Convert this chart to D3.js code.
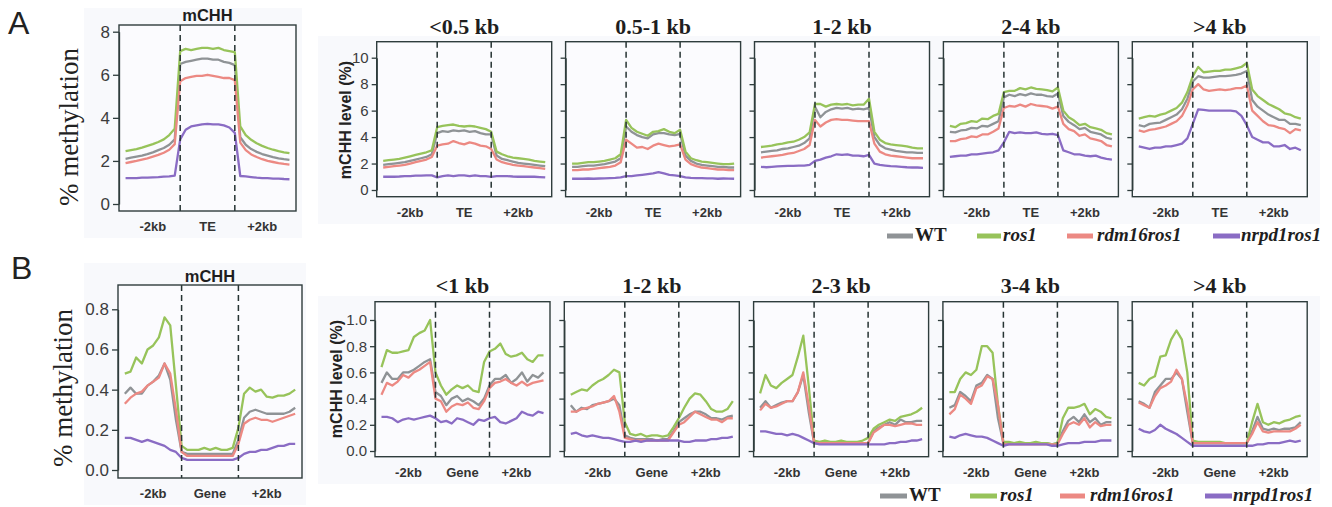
<!DOCTYPE html>
<html>
<head>
<meta charset="utf-8">
<script src="https://cdn.jsdelivr.net/npm/d3@7"></script>
<style>
  body { margin: 0; background: #fff; }
  svg { display: block; }
</style>
</head>
<body>
<svg id="chart" width="1332" height="507"></svg>
<script>
/* global d3 */

// bin centres along the meta-profile: 0-20 upstream, 20-40 body, 40-60 downstream
const binPos = [0, 2, 4, 6, 8, 10, 12, 14, 16, 18, 20, 22, 24, 26, 28, 30, 32, 34, 36, 38, 40, 42, 44, 46, 48, 50, 52, 54, 56, 58, 60]

const strains = ['WT', 'ros1', 'rdm16ros1', 'nrpd1ros1']
const teTitles = ['<0.5 kb', '0.5-1 kb', '1-2 kb', '2-4 kb', '>4 kb']
const geneTitles = ['<1 kb', '1-2 kb', '2-3 kb', '3-4 kb', '>4 kb']
const teRegions = ['-2kb', 'TE', '+2kb']
const geneRegions = ['-2kb', 'Gene', '+2kb']
const teAllTicks = [0, 2, 4, 6, 8]
const teBinTicks = [0, 2, 4, 6, 8, 10]
const geneAllTicks = [0, 0.2, 0.4, 0.6, 0.8]
const geneBinTicks = [0, 0.2, 0.4, 0.6, 0.8, 1.0]

// ---- A: TEs, all
const teAllWT = [2.1, 2.15, 2.2, 2.25, 2.32, 2.4, 2.5, 2.6, 2.75, 3.0, 6.5, 6.6, 6.65, 6.7, 6.75, 6.75, 6.7, 6.7, 6.6, 6.55, 6.45, 3.1, 2.75, 2.55, 2.42, 2.32, 2.25, 2.18, 2.12, 2.08, 2.05]
const teAllRos1 = [2.45, 2.5, 2.55, 2.62, 2.7, 2.78, 2.88, 3.0, 3.2, 3.5, 7.1, 7.2, 7.15, 7.2, 7.25, 7.25, 7.2, 7.25, 7.15, 7.1, 7.05, 3.6, 3.2, 2.98, 2.82, 2.7, 2.6, 2.52, 2.45, 2.4, 2.36]
const teAllRdm = [1.9, 1.95, 2.0, 2.06, 2.12, 2.2, 2.28, 2.38, 2.52, 2.78, 5.7, 5.85, 5.9, 5.95, 5.95, 6.0, 5.95, 5.9, 5.85, 5.85, 5.75, 2.85, 2.5, 2.3, 2.18, 2.08, 2.0, 1.95, 1.9, 1.86, 1.83]
const teAllNrpd = [1.2, 1.2, 1.2, 1.22, 1.22, 1.24, 1.25, 1.27, 1.28, 1.32, 3.0, 3.45, 3.6, 3.65, 3.7, 3.72, 3.7, 3.7, 3.65, 3.55, 3.3, 1.3, 1.28, 1.25, 1.22, 1.2, 1.2, 1.18, 1.18, 1.16, 1.15]

// ---- A: TEs by length
const te05WT = [1.9, 1.95, 2.0, 2.05, 2.1, 2.2, 2.3, 2.4, 2.5, 2.7, 4.3, 4.45, 4.4, 4.5, 4.45, 4.5, 4.4, 4.45, 4.3, 4.2, 4.2, 2.6, 2.35, 2.25, 2.15, 2.05, 2.0, 1.95, 1.9, 1.85, 1.8]
const te05Ros1 = [2.2, 2.25, 2.3, 2.35, 2.45, 2.55, 2.65, 2.75, 2.85, 3.0, 4.75, 4.85, 4.9, 4.95, 4.85, 4.8, 4.85, 4.8, 4.7, 4.6, 4.4, 2.9, 2.7, 2.55, 2.45, 2.4, 2.35, 2.3, 2.2, 2.15, 2.1]
const te05Rdm = [1.7, 1.75, 1.8, 1.85, 1.9, 2.0, 2.1, 2.2, 2.3, 2.5, 3.35, 3.45, 3.5, 3.7, 3.55, 3.45, 3.6, 3.5, 3.35, 3.3, 3.1, 2.3, 2.1, 2.0, 1.9, 1.85, 1.8, 1.75, 1.7, 1.65, 1.6]
const te05Nrpd = [1.0, 1.0, 1.0, 1.02, 1.05, 1.05, 1.08, 1.08, 1.1, 1.1, 0.95, 1.05, 1.1, 1.05, 1.1, 1.1, 1.05, 1.1, 1.05, 1.05, 1.0, 1.05, 1.05, 1.05, 1.02, 1.0, 1.0, 1.0, 1.0, 0.98, 0.95]

const te1WT = [1.75, 1.75, 1.8, 1.85, 1.85, 1.9, 1.95, 2.05, 2.15, 2.4, 4.8, 4.4, 4.15, 4.0, 3.9, 4.2, 4.3, 4.3, 4.2, 4.15, 4.25, 2.6, 2.2, 2.0, 1.9, 1.85, 1.8, 1.75, 1.75, 1.7, 1.7]
const te1Ros1 = [2.0, 2.0, 2.05, 2.1, 2.1, 2.15, 2.2, 2.3, 2.4, 2.7, 5.3, 4.7, 4.4, 4.25, 4.1, 4.4, 4.45, 4.6, 4.4, 4.3, 4.55, 2.9, 2.4, 2.25, 2.15, 2.1, 2.05, 2.0, 1.95, 1.95, 2.0]
const te1Rdm = [1.5, 1.5, 1.55, 1.55, 1.6, 1.65, 1.7, 1.75, 1.85, 2.1, 3.8, 3.5, 3.2, 3.25, 3.1, 3.35, 3.5, 3.4, 3.3, 3.35, 3.45, 2.3, 1.95, 1.8, 1.7, 1.65, 1.6, 1.55, 1.55, 1.5, 1.5]
const te1Nrpd = [0.85, 0.85, 0.85, 0.87, 0.85, 0.87, 0.88, 0.9, 0.92, 0.95, 1.05, 1.05, 1.1, 1.15, 1.2, 1.25, 1.35, 1.25, 1.15, 1.1, 1.05, 0.95, 0.92, 0.9, 0.9, 0.88, 0.88, 0.85, 0.87, 0.86, 0.85]

const te2WT = [2.85, 2.9, 2.95, 3.0, 3.1, 3.15, 3.25, 3.35, 3.55, 3.9, 6.3, 5.5, 5.9, 6.1, 6.2, 6.15, 6.2, 6.1, 6.15, 6.1, 6.2, 4.0, 3.4, 3.15, 3.05, 2.95, 2.9, 2.85, 2.85, 2.8, 2.8]
const te2Ros1 = [3.25, 3.3, 3.35, 3.45, 3.5, 3.6, 3.65, 3.8, 4.0, 4.35, 6.5, 6.5, 6.3, 6.45, 6.5, 6.45, 6.5, 6.4, 6.45, 6.45, 6.9, 4.4, 3.8, 3.55, 3.45, 3.4, 3.35, 3.3, 3.2, 3.15, 3.15]
const te2Rdm = [2.45, 2.5, 2.55, 2.6, 2.65, 2.75, 2.8, 2.95, 3.1, 3.4, 5.3, 4.8, 5.1, 5.3, 5.35, 5.3, 5.3, 5.25, 5.2, 5.2, 5.2, 3.5, 2.9, 2.7, 2.6, 2.55, 2.5, 2.45, 2.4, 2.4, 2.4]
const te2Nrpd = [1.75, 1.72, 1.75, 1.78, 1.8, 1.82, 1.82, 1.85, 1.85, 1.9, 2.2, 2.3, 2.45, 2.55, 2.7, 2.65, 2.7, 2.6, 2.6, 2.55, 2.65, 2.0, 1.9, 1.85, 1.8, 1.78, 1.75, 1.72, 1.7, 1.7, 1.68]

const te4WT = [4.4, 4.35, 4.5, 4.55, 4.7, 4.65, 4.85, 4.8, 5.0, 5.2, 7.0, 7.2, 7.1, 7.25, 7.15, 7.3, 7.2, 7.2, 7.1, 7.05, 7.3, 5.6, 5.15, 4.9, 4.6, 4.7, 4.4, 4.3, 4.2, 3.95, 3.85]
const te4Ros1 = [4.85, 4.75, 5.0, 5.05, 5.2, 5.15, 5.4, 5.35, 5.6, 5.75, 7.4, 7.5, 7.5, 7.7, 7.6, 7.75, 7.65, 7.6, 7.55, 7.45, 7.75, 6.0, 5.5, 5.25, 4.9, 5.0, 4.75, 4.65, 4.55, 4.3, 4.2]
const te4Rdm = [3.7, 3.7, 3.85, 3.9, 4.05, 4.0, 4.2, 4.2, 4.4, 4.65, 6.2, 6.35, 6.3, 6.45, 6.3, 6.5, 6.4, 6.35, 6.3, 6.15, 6.3, 5.0, 4.6, 4.45, 4.1, 4.2, 3.9, 3.8, 3.7, 3.4, 3.3]
const te4Nrpd = [2.5, 2.55, 2.6, 2.6, 2.7, 2.7, 2.75, 2.8, 2.85, 3.0, 3.6, 4.4, 4.3, 4.35, 4.3, 4.3, 4.35, 4.25, 4.2, 4.25, 4.15, 3.0, 2.85, 2.7, 2.7, 2.6, 2.55, 2.6, 2.45, 2.35, 2.3]

const te4pWT = [4.9, 4.8, 5.0, 5.05, 5.1, 5.3, 5.5, 5.7, 6.1, 6.9, 8.2, 8.6, 8.5, 8.5, 8.55, 8.6, 8.6, 8.65, 8.7, 8.8, 9.0, 6.8, 6.3, 6.0, 5.7, 5.5, 5.3, 5.3, 5.0, 5.0, 4.9]
const te4pRos1 = [5.4, 5.5, 5.6, 5.55, 5.7, 5.8, 6.0, 6.2, 6.6, 7.4, 8.6, 9.3, 8.9, 8.95, 9.0, 9.0, 9.1, 9.1, 9.2, 9.3, 9.6, 7.6, 7.1, 6.8, 6.5, 6.3, 6.1, 5.8, 5.7, 5.5, 5.4]
const te4pRdm = [4.5, 4.4, 4.55, 4.6, 4.7, 4.8, 5.0, 5.2, 5.6, 6.4, 7.6, 8.0, 7.6, 7.5, 7.55, 7.6, 7.55, 7.6, 7.7, 7.7, 7.9, 6.0, 5.6, 5.2, 4.9, 4.85, 4.7, 4.6, 4.3, 4.6, 4.5]
const te4pNrpd = [3.3, 3.2, 3.1, 3.2, 3.2, 3.3, 3.3, 3.4, 3.5, 3.9, 5.0, 6.1, 6.05, 6.0, 6.0, 6.0, 6.0, 6.0, 5.95, 5.6, 4.9, 4.0, 3.8, 3.6, 3.6, 3.3, 3.3, 3.4, 3.1, 3.2, 3.0]

// ---- B: genes, all
const geneAllWT = [0.38, 0.41, 0.38, 0.38, 0.42, 0.44, 0.47, 0.53, 0.45, 0.25, 0.09, 0.08, 0.08, 0.08, 0.08, 0.08, 0.08, 0.08, 0.08, 0.08, 0.15, 0.26, 0.29, 0.3, 0.29, 0.28, 0.28, 0.28, 0.28, 0.29, 0.31]
const geneAllRos1 = [0.48, 0.49, 0.56, 0.53, 0.6, 0.62, 0.66, 0.76, 0.72, 0.42, 0.12, 0.1, 0.1, 0.1, 0.11, 0.1, 0.11, 0.1, 0.1, 0.11, 0.21, 0.38, 0.41, 0.39, 0.4, 0.365, 0.36, 0.37, 0.37, 0.38, 0.4]
const geneAllRdm = [0.33, 0.36, 0.38, 0.39, 0.42, 0.44, 0.46, 0.53, 0.48, 0.3, 0.09, 0.07, 0.07, 0.07, 0.07, 0.07, 0.07, 0.07, 0.07, 0.07, 0.13, 0.23, 0.25, 0.26, 0.25, 0.25, 0.24, 0.25, 0.26, 0.27, 0.28]
const geneAllNrpd = [0.16, 0.16, 0.15, 0.14, 0.15, 0.14, 0.13, 0.12, 0.1, 0.09, 0.06, 0.05, 0.05, 0.05, 0.05, 0.05, 0.05, 0.05, 0.05, 0.05, 0.06, 0.08, 0.09, 0.09, 0.1, 0.1, 0.11, 0.12, 0.12, 0.13, 0.13]

// ---- B: genes by length
const gene1WT = [0.52, 0.6, 0.55, 0.55, 0.6, 0.6, 0.62, 0.65, 0.68, 0.7, 0.45, 0.42, 0.35, 0.4, 0.42, 0.38, 0.4, 0.38, 0.35, 0.4, 0.5, 0.55, 0.55, 0.58, 0.52, 0.55, 0.6, 0.53, 0.58, 0.56, 0.6]
const gene1Ros1 = [0.64, 0.77, 0.75, 0.75, 0.76, 0.77, 0.87, 0.9, 0.92, 1.0, 0.6, 0.5, 0.43, 0.47, 0.5, 0.48, 0.5, 0.46, 0.45, 0.68, 0.76, 0.78, 0.82, 0.74, 0.72, 0.73, 0.75, 0.7, 0.68, 0.73, 0.73]
const gene1Rdm = [0.43, 0.52, 0.5, 0.53, 0.58, 0.56, 0.6, 0.62, 0.65, 0.68, 0.4, 0.38, 0.3, 0.34, 0.36, 0.35, 0.37, 0.33, 0.32, 0.38, 0.48, 0.52, 0.53, 0.55, 0.52, 0.5, 0.53, 0.5, 0.52, 0.53, 0.54]
const gene1Nrpd = [0.26, 0.26, 0.25, 0.22, 0.24, 0.25, 0.24, 0.25, 0.26, 0.27, 0.25, 0.22, 0.23, 0.21, 0.25, 0.24, 0.22, 0.2, 0.24, 0.23, 0.25, 0.26, 0.22, 0.21, 0.23, 0.25, 0.3, 0.28, 0.27, 0.3, 0.29]

const gene2WT = [0.35, 0.3, 0.33, 0.32, 0.35, 0.36, 0.37, 0.38, 0.4, 0.35, 0.12, 0.1, 0.09, 0.09, 0.09, 0.09, 0.08, 0.09, 0.09, 0.15, 0.22, 0.25, 0.28, 0.3, 0.3, 0.28, 0.25, 0.25, 0.24, 0.26, 0.27]
const gene2Ros1 = [0.43, 0.45, 0.47, 0.46, 0.5, 0.53, 0.55, 0.58, 0.62, 0.6, 0.22, 0.13, 0.12, 0.13, 0.11, 0.12, 0.12, 0.11, 0.12, 0.18, 0.25, 0.33, 0.4, 0.44, 0.43, 0.38, 0.32, 0.3, 0.3, 0.32, 0.38]
const gene2Rdm = [0.3, 0.3, 0.32, 0.33, 0.34, 0.36, 0.37, 0.38, 0.42, 0.3, 0.1, 0.09, 0.08, 0.08, 0.08, 0.08, 0.08, 0.08, 0.08, 0.14, 0.2, 0.22, 0.26, 0.3, 0.28, 0.26, 0.24, 0.24, 0.22, 0.25, 0.25]
const gene2Nrpd = [0.13, 0.14, 0.12, 0.11, 0.12, 0.11, 0.1, 0.1, 0.09, 0.08, 0.07, 0.07, 0.08, 0.07, 0.08, 0.08, 0.08, 0.08, 0.08, 0.08, 0.08, 0.07, 0.07, 0.08, 0.08, 0.08, 0.09, 0.09, 0.1, 0.1, 0.11]

const gene3WT = [0.33, 0.38, 0.33, 0.35, 0.37, 0.38, 0.38, 0.45, 0.58, 0.3, 0.06, 0.06, 0.06, 0.06, 0.06, 0.06, 0.06, 0.06, 0.06, 0.06, 0.06, 0.15, 0.18, 0.2, 0.22, 0.2, 0.24, 0.22, 0.22, 0.23, 0.23]
const gene3Ros1 = [0.44, 0.58, 0.5, 0.48, 0.52, 0.55, 0.58, 0.72, 0.88, 0.5, 0.08, 0.07, 0.08, 0.07, 0.07, 0.08, 0.07, 0.07, 0.07, 0.08, 0.1, 0.17, 0.2, 0.22, 0.24, 0.23, 0.26, 0.27, 0.28, 0.3, 0.33]
const gene3Rdm = [0.31, 0.36, 0.33, 0.34, 0.36, 0.38, 0.38, 0.45, 0.6, 0.35, 0.06, 0.06, 0.06, 0.06, 0.06, 0.06, 0.06, 0.06, 0.06, 0.06, 0.06, 0.14, 0.17, 0.2, 0.2, 0.19, 0.2, 0.21, 0.21, 0.2, 0.2]
const gene3Nrpd = [0.15, 0.15, 0.14, 0.13, 0.13, 0.12, 0.13, 0.12, 0.1, 0.08, 0.06, 0.05, 0.05, 0.05, 0.05, 0.05, 0.05, 0.05, 0.05, 0.05, 0.05, 0.05, 0.05, 0.05, 0.06, 0.06, 0.07, 0.07, 0.08, 0.08, 0.09]

const gene4WT = [0.33, 0.35, 0.45, 0.42, 0.38, 0.5, 0.52, 0.58, 0.55, 0.25, 0.06, 0.06, 0.06, 0.06, 0.06, 0.06, 0.06, 0.06, 0.06, 0.05, 0.06, 0.15, 0.23, 0.26, 0.22, 0.28, 0.22, 0.25, 0.2, 0.22, 0.22]
const gene4Ros1 = [0.45, 0.45, 0.55, 0.6, 0.58, 0.62, 0.8, 0.8, 0.75, 0.35, 0.07, 0.07, 0.06, 0.07, 0.06, 0.06, 0.07, 0.06, 0.06, 0.05, 0.06, 0.25, 0.33, 0.33, 0.34, 0.36, 0.28, 0.32, 0.3, 0.26, 0.25]
const gene4Rdm = [0.28, 0.32, 0.43, 0.4, 0.36, 0.48, 0.5, 0.57, 0.55, 0.35, 0.05, 0.05, 0.05, 0.05, 0.05, 0.05, 0.05, 0.05, 0.05, 0.05, 0.05, 0.13, 0.2, 0.22, 0.2, 0.25, 0.18, 0.22, 0.19, 0.2, 0.2]
const gene4Nrpd = [0.11, 0.1, 0.12, 0.13, 0.12, 0.11, 0.11, 0.1, 0.08, 0.06, 0.04, 0.05, 0.05, 0.05, 0.05, 0.05, 0.05, 0.05, 0.05, 0.04, 0.04, 0.05, 0.06, 0.06, 0.06, 0.07, 0.07, 0.07, 0.08, 0.08, 0.08]

const gene4pWT = [0.38, 0.36, 0.33, 0.45, 0.5, 0.55, 0.55, 0.6, 0.55, 0.3, 0.06, 0.06, 0.06, 0.06, 0.06, 0.06, 0.06, 0.06, 0.06, 0.06, 0.06, 0.15, 0.26, 0.17, 0.16, 0.17, 0.16, 0.17, 0.17, 0.18, 0.22]
const gene4pRos1 = [0.52, 0.5, 0.55, 0.57, 0.72, 0.73, 0.85, 0.92, 0.85, 0.6, 0.08, 0.07, 0.07, 0.07, 0.07, 0.07, 0.06, 0.06, 0.06, 0.06, 0.06, 0.22, 0.36, 0.22, 0.2, 0.22, 0.21, 0.23, 0.24, 0.26, 0.27]
const gene4pRdm = [0.37, 0.35, 0.33, 0.42, 0.48, 0.5, 0.53, 0.62, 0.55, 0.35, 0.06, 0.06, 0.06, 0.06, 0.06, 0.06, 0.06, 0.06, 0.06, 0.06, 0.06, 0.13, 0.22, 0.15, 0.14, 0.15, 0.15, 0.15, 0.15, 0.17, 0.2]
const gene4pNrpd = [0.17, 0.15, 0.14, 0.16, 0.2, 0.17, 0.15, 0.13, 0.1, 0.07, 0.04, 0.04, 0.04, 0.04, 0.04, 0.04, 0.04, 0.04, 0.04, 0.04, 0.04, 0.04, 0.05, 0.05, 0.06, 0.06, 0.06, 0.07, 0.08, 0.07, 0.08]

const strainColor = {WT: '#8f9396', ros1: '#97c35a', rdm16ros1: '#ec8983', nrpd1ros1: '#8a6cc4'}
const frameColor = '#2f3d3d'

const svg = d3.select('#chart')
svg.append('rect').attr('width', 1332).attr('height', 507).attr('fill', '#fff')

// faint backdrops behind the plot groups
let zones = [[84, 8, 218, 230], [318, 36, 1002, 188], [84, 263, 222, 242], [318, 296, 1002, 188]]
zones.forEach(function (z) {
  svg.append('rect')
    .attr('x', z[0]).attr('y', z[1]).attr('width', z[2]).attr('height', z[3])
    .attr('fill', '#f8f9fc')
})

function drawPanel (opt) {
  let g = svg.append('g')
  let box = opt.box
  let x = d3.scaleLinear().domain([-2.4, 62.4]).range([box.x, box.x + box.w])
  let y = d3.scaleLinear()
    .domain([0, opt.ticks[opt.ticks.length - 1]])
    .range([opt.zeroY, opt.topY])

  g.append('rect')
    .attr('x', box.x).attr('y', box.y).attr('width', box.w).attr('height', box.h)
    .attr('fill', '#fbfbfe')

  let line = d3.line()
    .x(function (d, i) { return x(binPos[i]) })
    .y(function (d) { return y(d) })

  opt.series.forEach(function (s, k) {
    g.append('path')
      .attr('d', line(s))
      .attr('fill', 'none')
      .attr('stroke', strainColor[strains[k]])
      .attr('stroke-width', 2.3)
      .attr('stroke-linejoin', 'round')
  })

  // region boundaries
  ;[20, 40].forEach(function (b) {
    g.append('line')
      .attr('x1', x(b)).attr('x2', x(b))
      .attr('y1', box.y).attr('y2', box.y + box.h)
      .attr('stroke', '#263333')
      .attr('stroke-width', 1.5)
      .attr('stroke-dasharray', '6,4')
  })

  g.append('rect')
    .attr('x', box.x).attr('y', box.y).attr('width', box.w).attr('height', box.h)
    .attr('fill', 'none')
    .attr('stroke', frameColor)
    .attr('stroke-width', 1.4)

  let axis = d3.axisLeft(y)
    .tickValues(opt.ticks)
    .tickSize(opt.tickSize)
    .tickSizeOuter(0)
    .tickPadding(3)
    .tickFormat(opt.showLabels ? opt.fmt : function () { return '' })
  let ag = g.append('g')
    .attr('transform', 'translate(' + box.x + ',0)')
    .call(axis)
  ag.attr('font-family', 'Liberation Sans, Arial, sans-serif')
    .attr('font-size', opt.tickFont)
  ag.selectAll('text').attr('fill', '#3c3c3c')
  ag.selectAll('line, path').attr('stroke', frameColor).attr('stroke-width', 1.3)

  opt.regions.forEach(function (r, i) {
    g.append('text')
      .text(r)
      .attr('x', x(10 + i * 20))
      .attr('y', opt.regionY)
      .attr('text-anchor', 'middle')
      .style('font-family', 'Liberation Sans, Arial, sans-serif')
      .style('font-weight', 'bold')
      .style('font-size', '13px')
      .attr('fill', '#333')
  })

  let t = g.append('text')
    .text(opt.title)
    .attr('x', box.x + box.w / 2)
    .attr('y', opt.titleY)
    .attr('text-anchor', 'middle')
    .style('font-weight', 'bold')
    .attr('fill', '#1e1e1e')
  if (opt.bigTitle) {
    t.style('font-family', 'Liberation Serif, Times New Roman, serif').style('font-size', '22px')
  } else {
    t.style('font-family', 'Liberation Sans, Arial, sans-serif').style('font-size', '16.5px')
  }
}

function yLabel (txt, cx, cy, serif) {
  let t = svg.append('text')
    .text(txt)
    .attr('transform', 'translate(' + cx + ',' + cy + ') rotate(-90)')
    .attr('text-anchor', 'middle')
    .attr('fill', '#222')
  if (serif) {
    t.style('font-family', 'Liberation Serif, Times New Roman, serif').style('font-size', '27px')
  } else {
    t.style('font-family', 'Liberation Sans, Arial, sans-serif').style('font-size', '16px').style('font-weight', 'bold')
  }
}

function legend (items, y) {
  items.forEach(function (it, i) {
    svg.append('line')
      .attr('x1', it[0]).attr('x2', it[1])
      .attr('y1', y - 5).attr('y2', y - 5)
      .attr('stroke', strainColor[strains[i]])
      .attr('stroke-width', 5)
    svg.append('text')
      .text(strains[i])
      .attr('x', it[2])
      .attr('y', y)
      .style('font-family', 'Liberation Serif, Times New Roman, serif')
      .style('font-weight', 'bold')
      .style('font-style', i === 0 ? 'normal' : 'italic')
      .style('font-size', '19px')
      .attr('fill', '#1e1e1e')
  })
}

// panel letters
svg.append('text').text('A').attr('x', 8).attr('y', 34)
  .style('font-family', 'Liberation Sans, Arial, sans-serif').style('font-size', '32px').attr('fill', '#222')
svg.append('text').text('B').attr('x', 11).attr('y', 279)
  .style('font-family', 'Liberation Sans, Arial, sans-serif').style('font-size', '32px').attr('fill', '#222')

// ---- row A
drawPanel({
  box: {x: 119, y: 25, w: 177, h: 186},
  ticks: teAllTicks, zeroY: 204, topY: 31.7, tickSize: 6, tickFont: 17, showLabels: true,
  fmt: d3.format('d'),
  series: [teAllWT, teAllRos1, teAllRdm, teAllNrpd],
  regions: teRegions, regionY: 230.5, title: 'mCHH', titleY: 21, bigTitle: false
})
let teBins = [
  [te05WT, te05Ros1, te05Rdm, te05Nrpd],
  [te1WT, te1Ros1, te1Rdm, te1Nrpd],
  [te2WT, te2Ros1, te2Rdm, te2Nrpd],
  [te4WT, te4Ros1, te4Rdm, te4Nrpd],
  [te4pWT, te4pRos1, te4pRdm, te4pNrpd]
]
teBins.forEach(function (series, k) {
  drawPanel({
    box: {x: 376.7 + k * 188.9, y: 41.7, w: 175, h: 155},
    ticks: teBinTicks, zeroY: 190, topY: 57.7, tickSize: 5, tickFont: 15, showLabels: k === 0,
    fmt: d3.format('d'),
    series: series,
    regions: teRegions, regionY: 216.5, title: teTitles[k], titleY: 34, bigTitle: true
  })
})
yLabel('% methylation', 78, 127, true)
yLabel('mCHH level (%)', 351, 120, false)
legend([[887, 913, 915], [977, 1001, 1003], [1067, 1093, 1097], [1213, 1240, 1241]], 241)

// ---- row B
drawPanel({
  box: {x: 118, y: 285, w: 184, h: 193},
  ticks: geneAllTicks, zeroY: 470, topY: 309.3, tickSize: 6, tickFont: 17, showLabels: true,
  fmt: d3.format('.1f'),
  series: [geneAllWT, geneAllRos1, geneAllRdm, geneAllNrpd],
  regions: geneRegions, regionY: 498, title: 'mCHH', titleY: 282, bigTitle: false
})
let geneBins = [
  [gene1WT, gene1Ros1, gene1Rdm, gene1Nrpd],
  [gene2WT, gene2Ros1, gene2Rdm, gene2Nrpd],
  [gene3WT, gene3Ros1, gene3Rdm, gene3Nrpd],
  [gene4WT, gene4Ros1, gene4Rdm, gene4Nrpd],
  [gene4pWT, gene4pRos1, gene4pRdm, gene4pNrpd]
]
geneBins.forEach(function (series, k) {
  drawPanel({
    box: {x: 375 + k * 189.3, y: 301.7, w: 175, h: 155},
    ticks: geneBinTicks, zeroY: 451, topY: 320, tickSize: 5, tickFont: 15, showLabels: k === 0,
    fmt: d3.format('.1f'),
    series: series,
    regions: geneRegions, regionY: 476.5, title: geneTitles[k], titleY: 293, bigTitle: true
  })
})
yLabel('% methylation', 72, 388, true)
yLabel('mCHH level (%)', 342, 379, false)
legend([[880, 907, 909], [970, 997, 1000], [1060, 1085, 1090], [1205, 1232, 1233]], 501)
</script>
</body>
</html>
